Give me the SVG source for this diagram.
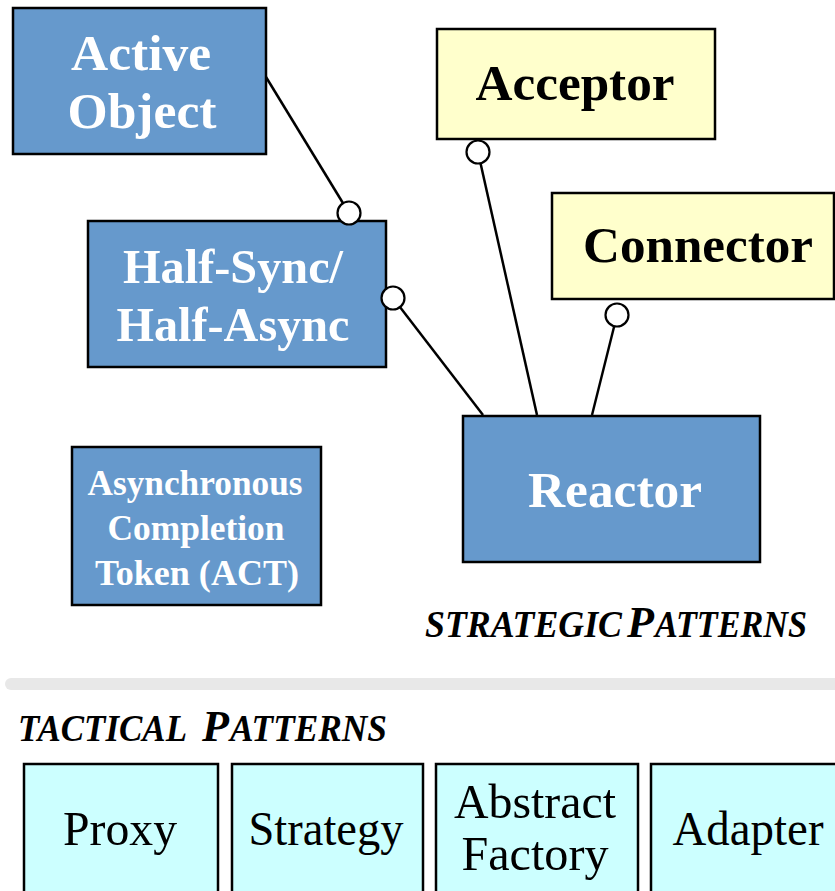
<svg xmlns="http://www.w3.org/2000/svg" width="835" height="891" viewBox="0 0 835 891">
  <style>
    .box { stroke: #000; stroke-width: 2.5; }
    .strategic { fill: #6699CC; }
    .factory { fill: #FFFFCC; }
    .tactical { fill: #CCFFFF; }
    .lbl { font-family: "Liberation Serif", "Times New Roman", serif; text-anchor: middle; }
    .bold { font-weight: bold; }
    .white { fill: #fff; }
    .dark { fill: #000; }
    .edge { stroke: #000; stroke-width: 2.5; fill: none; }
    .port { fill: #fff; stroke: #000; stroke-width: 2.2; }
    .title { font-family: "Liberation Serif", "Times New Roman", serif; font-weight: bold; font-style: italic; fill: #000; font-size: 37px; }
    .title-cap { font-size: 45px; }
  </style>

  <rect width="835" height="891" fill="#fff"/>

  <!-- connectors between strategic patterns -->
  <g id="connectors">
    <line class="edge" x1="266" y1="77" x2="349" y2="213"/>
    <line class="edge" x1="393" y1="298" x2="483" y2="415"/>
    <line class="edge" x1="478" y1="152" x2="537" y2="415"/>
    <line class="edge" x1="617" y1="315" x2="592" y2="415"/>
  </g>

  <g id="active-object">
    <rect class="box strategic" x="13" y="8" width="253" height="146"/>
    <text class="lbl bold white" font-size="50" x="141" y="70" textLength="140" lengthAdjust="spacingAndGlyphs">Active</text>
    <text class="lbl bold white" font-size="50" x="142" y="128" textLength="149" lengthAdjust="spacingAndGlyphs">Object</text>
  </g>

  <g id="half-sync-half-async">
    <rect class="box strategic" x="88" y="221" width="298" height="146"/>
    <text class="lbl bold white" font-size="48" x="233" y="283" textLength="220" lengthAdjust="spacingAndGlyphs">Half-Sync/</text>
    <text class="lbl bold white" font-size="48" x="233" y="341" textLength="233" lengthAdjust="spacingAndGlyphs">Half-Async</text>
  </g>

  <g id="acceptor">
    <rect class="box factory" x="437" y="29" width="278" height="110"/>
    <text class="lbl bold dark" font-size="50" x="575" y="100" textLength="199" lengthAdjust="spacingAndGlyphs">Acceptor</text>
  </g>

  <g id="connector">
    <rect class="box factory" x="552" y="193" width="282" height="106"/>
    <text class="lbl bold dark" font-size="50" x="698" y="262" textLength="230" lengthAdjust="spacingAndGlyphs">Connector</text>
  </g>

  <g id="reactor">
    <rect class="box strategic" x="463" y="416" width="297" height="146"/>
    <text class="lbl bold white" font-size="50" x="615" y="507" textLength="174" lengthAdjust="spacingAndGlyphs">Reactor</text>
  </g>

  <g id="act">
    <rect class="box strategic" x="72" y="447" width="249" height="158"/>
    <text class="lbl bold white" font-size="35" x="195" y="495" textLength="215" lengthAdjust="spacingAndGlyphs">Asynchronous</text>
    <text class="lbl bold white" font-size="35" x="196" y="540" textLength="177" lengthAdjust="spacingAndGlyphs">Completion</text>
    <text class="lbl bold white" font-size="35" x="197" y="585" textLength="204" lengthAdjust="spacingAndGlyphs">Token (ACT)</text>
  </g>

  <!-- layer captions (small caps with a full-size P) and divider -->
  <g id="strategic-caption">
    <text class="title" x="425" y="637" textLength="197" lengthAdjust="spacingAndGlyphs">STRATEGIC</text>
    <text class="title title-cap" x="627" y="637" textLength="27" lengthAdjust="spacingAndGlyphs">P</text>
    <text class="title" x="655" y="637" textLength="152" lengthAdjust="spacingAndGlyphs">ATTERNS</text>
  </g>

  <rect id="divider" x="5" y="678" width="850" height="12" rx="6" fill="#E8E8E8"/>

  <g id="tactical-caption">
    <text class="title" x="18" y="741" textLength="169" lengthAdjust="spacingAndGlyphs">TACTICAL</text>
    <text class="title title-cap" x="202" y="741" textLength="27" lengthAdjust="spacingAndGlyphs">P</text>
    <text class="title" x="230" y="741" textLength="157" lengthAdjust="spacingAndGlyphs">ATTERNS</text>
  </g>

  <g id="proxy">
    <rect class="box tactical" x="24" y="764" width="194" height="140"/>
    <text class="lbl dark" font-size="49" x="120" y="845" textLength="114" lengthAdjust="spacingAndGlyphs">Proxy</text>
  </g>

  <g id="strategy">
    <rect class="box tactical" x="232" y="764" width="191" height="140"/>
    <text class="lbl dark" font-size="49" x="326" y="845" textLength="155" lengthAdjust="spacingAndGlyphs">Strategy</text>
  </g>

  <g id="abstract-factory">
    <rect class="box tactical" x="436" y="764" width="202" height="140"/>
    <text class="lbl dark" font-size="49" x="535" y="818" textLength="162" lengthAdjust="spacingAndGlyphs">Abstract</text>
    <text class="lbl dark" font-size="49" x="535" y="870" textLength="147" lengthAdjust="spacingAndGlyphs">Factory</text>
  </g>

  <g id="adapter">
    <rect class="box tactical" x="651" y="764" width="195" height="140"/>
    <text class="lbl dark" font-size="49" x="748" y="845" textLength="151" lengthAdjust="spacingAndGlyphs">Adapter</text>
  </g>

  <!-- lollipop ends drawn over the node borders -->
  <g id="ports">
    <circle class="port" cx="349" cy="213" r="11.5"/>
    <circle class="port" cx="393" cy="298" r="11.5"/>
    <circle class="port" cx="478" cy="152" r="11.5"/>
    <circle class="port" cx="617" cy="315" r="11.5"/>
  </g>
</svg>
